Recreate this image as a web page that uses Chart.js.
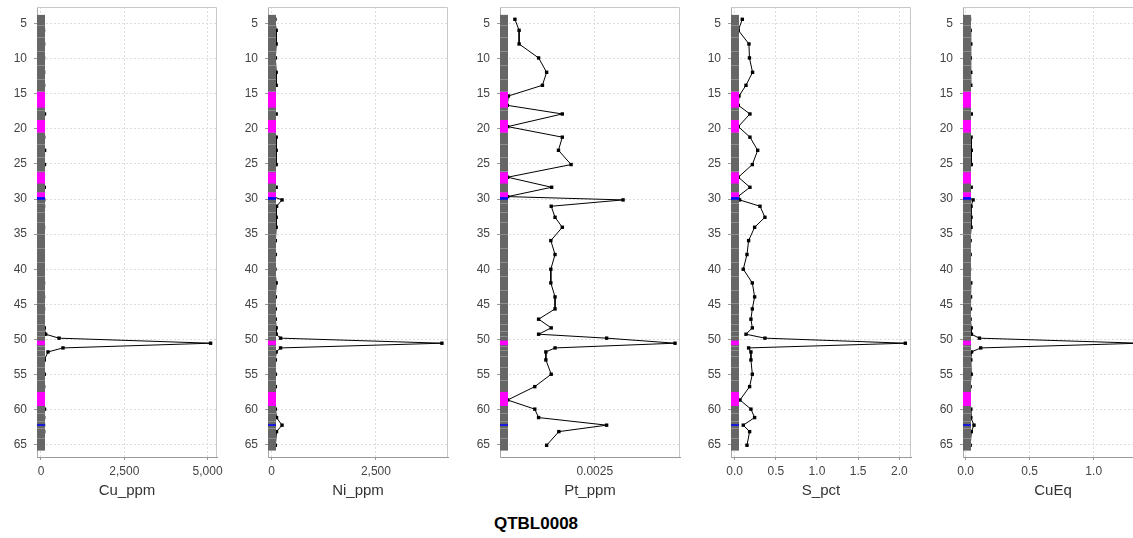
<!DOCTYPE html>
<html>
<head>
<meta charset="utf-8">
<script src="https://cdn.jsdelivr.net/npm/chart.js@4.4.0/dist/chart.umd.min.js"></script>
<style>
  body { margin: 0; background: #fff; overflow: hidden; width: 1133px; height: 538px; position: relative; }
  .panel { position: absolute; top: 0; }
  #title { position: absolute; top: 514px; left: 0; width: 1072px; text-align: center;
           font: bold 17px "Liberation Sans", Arial, sans-serif; color: #000; }
</style>
</head>
<body>
<canvas id="c0" class="panel" width="231" height="505" style="left:0px"></canvas>
<canvas id="c1" class="panel" width="231" height="505" style="left:231px"></canvas>
<canvas id="c2" class="panel" width="231" height="505" style="left:463px"></canvas>
<canvas id="c3" class="panel" width="231" height="505" style="left:694px"></canvas>
<canvas id="c4" class="panel" width="231" height="505" style="left:926px"></canvas>
<div id="title">QTBL0008</div>
<script>
// sample depths (m) shared by every panel
const depths = [4.43, 6.0, 7.94, 9.93, 11.97, 13.82, 15.34, 16.67, 17.9, 19.7,
  21.2, 23.07, 25.1, 26.9, 28.33, 29.66, 30.13, 31.03, 32.6, 34.02,
  35.92, 37.9, 39.99, 41.94, 43.93, 45.64, 47.1, 48.34, 49.24, 49.8,
  50.52, 51.19, 51.76, 52.9, 54.93, 56.7, 58.6, 59.9, 61.1, 62.18,
  63.1, 65.04];

const cuPpm = [70, 75, 78, 75, 78, 78, 20, 20, 105, 20,
  80, 108, 105, 20, 100, 20, 80, 75, 70, 75,
  70, 70, 65, 75, 75, 75, 70, 100, 140, 540,
  5090, 660, 210, 100, 100, 80, 20, 105, 80, 75,
  80, 70];

const niPpm = [80, 110, 110, 90, 110, 110, 30, 30, 110, 30,
  110, 110, 110, 30, 110, 30, 250, 120, 110, 110,
  90, 90, 80, 110, 90, 90, 90, 110, 110, 215,
  4080, 215, 110, 90, 90, 90, 30, 90, 118, 250,
  118, 90];

const ptPpm = [0.00041, 0.00052, 0.00052, 0.00103, 0.00124, 0.00113, 0.00024, 0.00021, 0.00165, 0.00022,
  0.00165, 0.00155, 0.00188, 0.00022, 0.00137, 0.00022, 0.00324, 0.00136, 0.00146, 0.00165,
  0.00135, 0.00146, 0.00135, 0.00135, 0.00146, 0.00146, 0.00103, 0.00136, 0.00103, 0.00281,
  0.00460, 0.00146, 0.00122, 0.00122, 0.00136, 0.00093, 0.00022, 0.00093, 0.00103, 0.00281,
  0.00156, 0.00124];

const sPct = [0.093, 0.045, 0.174, 0.18, 0.218, 0.138, 0.053, 0.045, 0.186, 0.045,
  0.186, 0.28, 0.215, 0.045, 0.186, 0.04, 0.06, 0.308, 0.368, 0.243,
  0.17, 0.15, 0.105, 0.215, 0.243, 0.215, 0.198, 0.215, 0.138, 0.368,
  2.073, 0.17, 0.198, 0.198, 0.215, 0.182, 0.065, 0.198, 0.243, 0.105,
  0.182, 0.15];

const cuEq = [0.03, 0.035, 0.04, 0.035, 0.04, 0.04, 0.01, 0.01, 0.044, 0.01,
  0.042, 0.044, 0.044, 0.01, 0.043, 0.01, 0.058, 0.042, 0.042, 0.042,
  0.035, 0.035, 0.03, 0.04, 0.038, 0.037, 0.035, 0.043, 0.045, 0.107,
  1.36, 0.117, 0.046, 0.04, 0.043, 0.035, 0.01, 0.04, 0.04, 0.065,
  0.044, 0.035];

// tick labels
const depthTicks = [5, 10, 15, 20, 25, 30, 35, 40, 45, 50, 55, 60, 65];
const cuTicks = [0, 2500, 5000];
const niTicks = [0, 2500];
const ptTicks = [0.0025];
const sTicks = [0, 0.5, 1, 1.5, 2];
const cuEqTicks = [0, 0.5, 1];

// lithology column intervals (from, to depth)
const holeTop = 3.8, holeBottom = 65.8;
const magentaIntervals = [[14.75, 17.0], [18.75, 20.55], [26.2, 27.8], [29.05, 29.75], [50.15, 50.8], [57.45, 59.45]];
const blueIntervals = [[29.75, 30.1], [62.05, 62.25]];

const panels = [
  { id: 'c0', name: 'Cu_ppm', values: cuPpm, ticks: cuTicks, min: -120, max: 5282, fmt: v => v.toLocaleString('en-US') },
  { id: 'c1', name: 'Ni_ppm', values: niPpm, ticks: niTicks, min: -86, max: 4226, fmt: v => v.toLocaleString('en-US') },
  { id: 'c2', name: 'Pt_ppm', values: ptPpm, ticks: ptTicks, min: 0.00002, max: 0.00473, fmt: v => v.toFixed(4) },
  { id: 'c3', name: 'S_pct', values: sPct, ticks: sTicks, min: -0.044, max: 2.142, fmt: v => v.toFixed(1) },
  { id: 'c4', name: 'CuEq', values: cuEq, ticks: cuEqTicks, min: -0.021, max: 1.385, fmt: v => v.toFixed(1) }
];

const FONT = '"Liberation Sans", Arial, sans-serif';

// light frame on top/right of the plot
const framePlugin = {
  id: 'frame',
  beforeDatasetsDraw(chart) {
    const { ctx, chartArea: a } = chart;
    ctx.save();
    ctx.strokeStyle = '#c8c8c8';
    ctx.lineWidth = 1;
    ctx.beginPath();
    ctx.moveTo(a.left, a.top + 0.5);
    ctx.lineTo(a.right - 0.5, a.top + 0.5);
    ctx.lineTo(a.right - 0.5, a.bottom);
    ctx.stroke();
    ctx.restore();
  }
};

// lithology strip, drawn over the data like the original
const stripPlugin = {
  id: 'strip',
  afterDatasetsDraw(chart) {
    const { ctx, chartArea: a, scales: { y } } = chart;
    const w = 8;
    ctx.save();
    const t = y.getPixelForValue(holeTop), b = y.getPixelForValue(holeBottom);
    ctx.fillStyle = '#666';
    ctx.fillRect(a.left, t, w, b - t);
    ctx.strokeStyle = '#8c8c8c';
    ctx.lineWidth = 1;
    for (let i = 1; i < depths.length; i++) {
      const py = Math.round(y.getPixelForValue((depths[i - 1] + depths[i]) / 2)) + 0.5;
      ctx.beginPath();
      ctx.moveTo(a.left, py);
      ctx.lineTo(a.left + w, py);
      ctx.stroke();
    }
    const fillInt = (list, color) => {
      ctx.fillStyle = color;
      list.forEach(([d0, d1]) => {
        const p0 = y.getPixelForValue(d0), p1 = y.getPixelForValue(d1);
        ctx.fillRect(a.left, p0, w, Math.max(p1 - p0, 1.5));
      });
    };
    fillInt(magentaIntervals, '#ff00ff');
    fillInt(blueIntervals, '#0000ff');
    ctx.restore();
  }
};

panels.forEach(p => {
  new Chart(document.getElementById(p.id), {
    type: 'scatter',
    data: {
      datasets: [{
        data: depths.map((d, i) => ({ x: p.values[i], y: d })),
        showLine: true,
        borderColor: '#000',
        borderWidth: 1,
        backgroundColor: '#000',
        pointStyle: 'rect',
        pointRadius: 2.4,
        pointBorderWidth: 0,
        pointHoverRadius: 2.4
      }]
    },
    options: {
      responsive: false,
      animation: false,
      layout: { padding: { top: 7, right: 14, left: 0, bottom: 0 } },
      plugins: { legend: { display: false }, tooltip: { enabled: false } },
      scales: {
        x: {
          type: 'linear',
          min: p.min,
          max: p.max,
          afterBuildTicks: s => { s.ticks = p.ticks.map(v => ({ value: v })); },
          afterFit: s => { s.height = 48; s.paddingLeft = 0; s.paddingRight = 0; },
          grid: { color: '#dcdcdc', tickLength: 3, tickColor: '#999' },
          border: { color: '#999', dash: [2, 2] },
          ticks: { autoSkip: false, maxRotation: 0, padding: 4, color: '#444',
                   font: { family: FONT, size: 12 }, callback: v => p.fmt(v) },
          title: { display: true, text: p.name, color: '#333', padding: { top: 0, bottom: 5 },
                   font: { family: FONT, size: 15 } }
        },
        y: {
          type: 'linear',
          reverse: true,
          min: 2.68,
          max: 66.71,
          afterBuildTicks: s => { s.ticks = depthTicks.map(v => ({ value: v })); },
          afterFit: s => { s.width = 37; s.paddingTop = 0; s.paddingBottom = 0; },
          grid: { color: '#dcdcdc', tickLength: 3, tickColor: '#999' },
          border: { color: '#aaa', dash: [2, 2] },
          ticks: { autoSkip: false, padding: 7, color: '#444', font: { family: FONT, size: 12 } }
        }
      }
    },
    plugins: [framePlugin, stripPlugin]
  });
});
</script>
</body>
</html>
